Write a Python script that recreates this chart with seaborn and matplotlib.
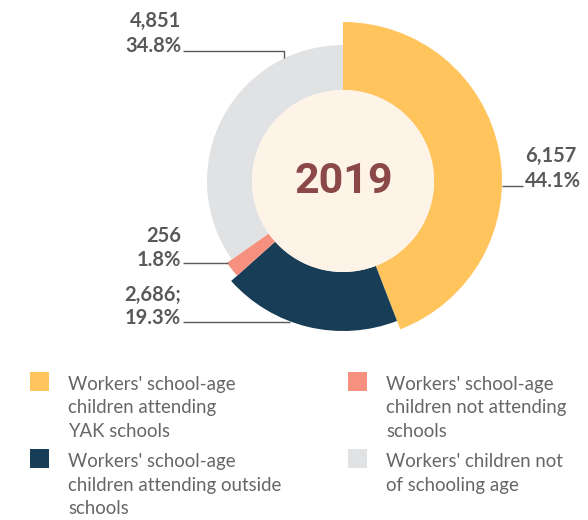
import numpy as np
import matplotlib
matplotlib.use("Agg")
import matplotlib.pyplot as plt
from matplotlib.patches import Rectangle
import seaborn as sns

# ---- data -------------------------------------------------------------
categories = [
    "Workers' school-age\nchildren attending\nYAK schools",
    "Workers' school-age\nchildren attending outside\nschools",
    "Workers' school-age\nchildren not attending\nschools",
    "Workers' children not\nof schooling age",
]
counts = [6157, 2686, 256, 4851]
shares = [44.1, 19.3, 1.8, 34.8]
count_labels = ["6,157", "2,686;", "256", "4,851"]
year_label = "2019"

# ---- style ------------------------------------------------------------
sns.set_theme(style="white")
plt.rcParams["font.family"] = ["Lato", "DejaVu Sans"]

colors = ["#FFC45B", "#173D57", "#F5917E", "#E1E2E4"]
outer_r = [159, 150, 142, 136]      # each ring segment has its own depth
inner_r = 91
hole_color = "#FEF3E7"
label_color = "#595959"
legend_color = "#666666"

W, H = 588, 520
fig = plt.figure(figsize=(W / 100, H / 100), dpi=100)
fig.patch.set_facecolor("white")

# ---- donut on a polar axes (1 radial unit == 1 pixel) -----------------
cx, cy = 343, 181
R = 165
pax = fig.add_axes([(cx - R) / W, (H - cy - R) / H, 2 * R / W, 2 * R / H],
                   projection="polar")
pax.set_theta_zero_location("N")
pax.set_theta_direction(-1)
pax.set_ylim(0, R)
pax.set_axis_off()

total = float(sum(counts))
fracs = np.array(counts) / total
starts = np.concatenate([[0], np.cumsum(fracs)[:-1]]) * 2 * np.pi
widths = fracs * 2 * np.pi
pax.bar(starts, np.array(outer_r) - inner_r, width=widths, bottom=inner_r,
        align="edge", color=colors, linewidth=0)
pax.bar(0, inner_r, width=2 * np.pi, bottom=0, color=hole_color, linewidth=0)

# ---- overlay in pixel coordinates for labels and legend ---------------
ax = fig.add_axes([0, 0, 1, 1])
ax.set_xlim(0, W)
ax.set_ylim(H, 0)
ax.set_axis_off()
ax.patch.set_alpha(0)

ax.text(344, 193, year_label, ha="center", va="baseline", fontsize=31,
        fontweight="bold", color="#8A4848",
        family=["Roboto", "DejaVu Sans"])


def stacked(x, baselines, lines, ha, **kw):
    for y, s in zip(baselines, lines):
        ax.text(x, y, s, ha=ha, va="baseline", **kw)


# value labels with leader lines: (text x, align, baselines, leader path)
callouts = [
    (525, "left", (162, 187), [(502, 186), (523, 186)]),
    (181, "right", (301, 324), [(183, 322), (290, 322)]),
    (181, "right", (242, 266), [(183, 263), (228, 263)]),
    (181, "right", (27, 52), [(183, 51), (284, 51), (284, 58)]),
]
for (x, ha, bl, path), c, s in zip(callouts, count_labels, shares):
    stacked(x, bl, [c, f"{s:.1f}%"], ha, fontsize=14.5, fontweight="bold",
            color=label_color)
    px, py = zip(*path)
    ax.plot(px, py, color="#5a5a5a", lw=1.0, solid_capstyle="butt")

# ---- legend: two columns, filled column by column ---------------------
legend_slots = [(30, 372), (30, 449), (348, 372), (348, 449)]
for (sx, sy), col, lab in zip(legend_slots, colors, categories):
    ax.add_patch(Rectangle((sx, sy), 19, 19, color=col, linewidth=0))
    lines = lab.split("\n")
    base = [sy + 18 + 23.5 * i for i in range(len(lines))]
    stacked(sx + 38, base, lines, "left", fontsize=13.4, fontweight="normal",
            color=legend_color, clip_on=False)

fig.savefig("out.png", dpi=100, facecolor="white")
